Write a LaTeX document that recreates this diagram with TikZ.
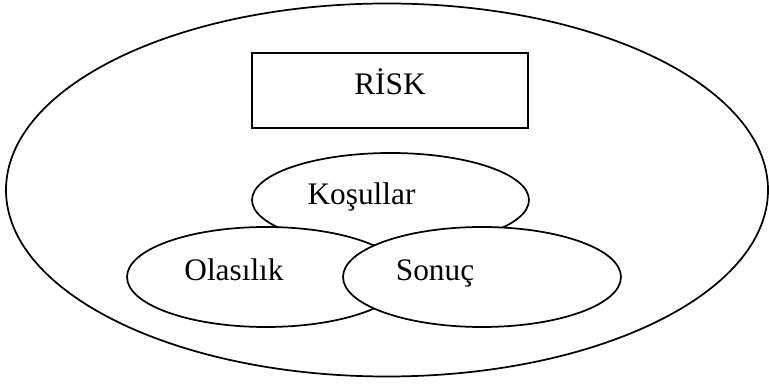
\documentclass[tikz,border=0pt]{standalone}
\usepackage{fontspec}
\setmainfont{Liberation Serif}
\usepackage{tikz}
\usetikzlibrary{positioning, shapes.geometric}

\begin{document}
\begin{tikzpicture}[x=0.75pt, y=-0.75pt, line width=1.3pt,
  oval/.style={ellipse, draw, fill=white, inner sep=0pt},
  lbl/.style={anchor=base, inner sep=0pt, font=\fontsize{23.5}{28}\selectfont}]
\useasboundingbox (0,0) rectangle (769,384);

% Outer field
\node[oval, minimum width=571.5pt, minimum height=279.75pt] (alan) at (387,190) {};

% Title box
\node[draw, inner sep=0pt, minimum width=207pt, minimum height=56.25pt] (kutu) at (390,90.5) {};
\node[lbl] (risk) at (390,95) {RİSK};

% Three overlapping parts
\node[oval, minimum width=207.75pt, minimum height=70.5pt] (kosul) at (390.5,200) {};
\node[oval, minimum width=208.5pt, minimum height=75pt] (olas) at (266,277) {};
\node[oval, minimum width=208.5pt, minimum height=75pt] (sonuc) at (482,277) {};

% Labels
\node[lbl] (tkosul) at (361.5,205) {Koşullar};
\node[lbl] (tolas) at (234,280.5) {Olasılık};
\node[lbl] (tsonuc) at (435,280.5) {Sonuç};
\end{tikzpicture}
\end{document}
